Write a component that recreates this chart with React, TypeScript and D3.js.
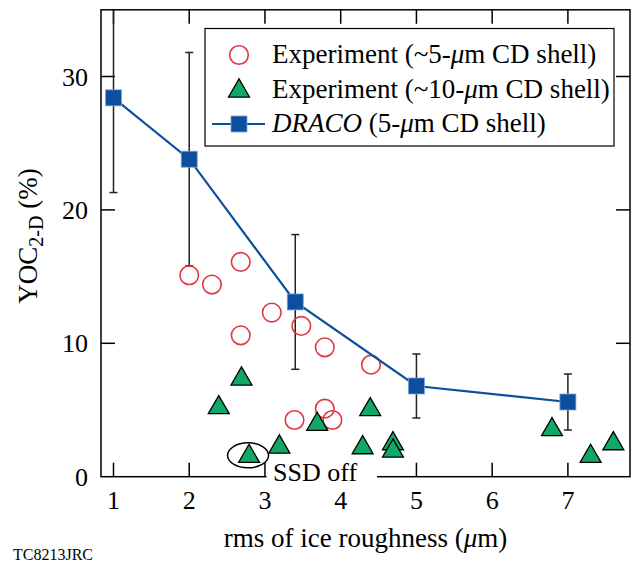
import React, { useEffect, useRef } from 'react';
import * as d3 from 'd3';

// DRACO simulation (5-um CD shell)
const dracoX = [1, 2, 3.4, 5, 7];
const dracoY = [28.4, 23.8, 13.1, 6.8, 5.6];
const dracoErr = [7.1, 8.0, 5.05, 2.4, 2.1];

// Experiment (~5-um CD shell)
const exp5X = [2.0, 2.3, 2.68, 2.68, 3.09, 3.48, 3.79, 4.4, 3.39, 3.79, 3.89];
const exp5Y = [15.1, 14.4, 16.1, 10.6, 12.3, 11.3, 9.7, 8.4, 4.25, 5.1, 4.25];

// Experiment (~10-um CD shell)
const exp10X = [2.39, 2.69, 2.79, 3.19, 3.69, 4.29, 4.39, 4.69, 4.69, 6.79, 7.3, 7.6];
const exp10Y = [5.25, 7.4, 1.6, 2.3, 4.0, 2.25, 5.1, 2.55, 2.0, 3.6, 1.6, 2.55];

// index of the "SSD off" shot in exp10
const ssdOffIndex = 2;

const xTicks = [1, 2, 3, 4, 5, 6, 7];
const yTicks = [10, 20, 30];
const yTickLabels = [0, 10, 20, 30];

const legendLabels = [
  'Experiment (~5-',
  'Experiment (~10-',
  '(5-',
];

const App = () => {
  const svgRef = useRef<SVGSVGElement>(null);

  useEffect(() => {
    const width = 634;
    const height = 564;
    const left = 101;
    const right = 630;
    const top = 9.8;
    const bottom = 476.7;
    const font = "'Liberation Serif', 'Times New Roman', Times, serif";
    const blue = '#0b4f9e';
    const red = '#e2363e';
    const green = '#10a867';
    const fs = 27;

    const svg = d3.select(svgRef.current).attr('width', width).attr('height', height);
    svg.selectAll('*').remove();

    const x = d3.scaleLinear().domain([0.835, 7.82]).range([left, right]);
    const y = d3.scaleLinear().domain([0, 35]).range([bottom, top]);

    const g = svg.append('g').style('font-family', font);

    // frame
    g.append('rect')
      .attr('x', left).attr('y', top)
      .attr('width', right - left).attr('height', bottom - top)
      .attr('fill', 'none').attr('stroke', '#000').attr('stroke-width', 1.5);

    // inward ticks
    const tickLen = 14;
    xTicks.forEach(t => {
      g.append('line').attr('x1', x(t)).attr('x2', x(t)).attr('y1', bottom).attr('y2', bottom - tickLen)
        .attr('stroke', '#000').attr('stroke-width', 1.5);
      g.append('line').attr('x1', x(t)).attr('x2', x(t)).attr('y1', top).attr('y2', top + tickLen)
        .attr('stroke', '#000').attr('stroke-width', 1.5);
      g.append('text').attr('x', x(t)).attr('y', 509).attr('text-anchor', 'middle')
        .attr('font-size', 26).text(t);
    });
    yTicks.forEach(t => {
      g.append('line').attr('x1', left).attr('x2', left + tickLen).attr('y1', y(t)).attr('y2', y(t))
        .attr('stroke', '#000').attr('stroke-width', 1.5);
      g.append('line').attr('x1', right).attr('x2', right - tickLen).attr('y1', y(t)).attr('y2', y(t))
        .attr('stroke', '#000').attr('stroke-width', 1.5);
    });
    yTickLabels.forEach(t => {
      g.append('text').attr('x', 88).attr('y', y(t) + 9).attr('text-anchor', 'end')
        .attr('font-size', 26).text(t);
    });

    // error bars for DRACO
    const cap = 4;
    dracoX.forEach((d, i) => {
      const y1 = Math.max(y(dracoY[i] + dracoErr[i]), top);
      const y2 = y(dracoY[i] - dracoErr[i]);
      g.append('line').attr('x1', x(d)).attr('x2', x(d)).attr('y1', y1).attr('y2', y2)
        .attr('stroke', '#222').attr('stroke-width', 1.5);
      if (y(dracoY[i] + dracoErr[i]) > top) {
        g.append('line').attr('x1', x(d) - cap).attr('x2', x(d) + cap).attr('y1', y1).attr('y2', y1)
          .attr('stroke', '#222').attr('stroke-width', 1.5);
      }
      g.append('line').attr('x1', x(d) - cap).attr('x2', x(d) + cap).attr('y1', y2).attr('y2', y2)
        .attr('stroke', '#222').attr('stroke-width', 1.5);
    });

    // experiment circles
    g.selectAll('.exp5')
      .data(exp5X.map((d, i) => [d, exp5Y[i]]))
      .enter()
      .append('circle')
      .attr('cx', d => x(d[0])).attr('cy', d => y(d[1])).attr('r', 9.3)
      .attr('fill', 'none').attr('stroke', red).attr('stroke-width', 1.6);

    // DRACO line
    const line = d3.line<number>().x((d, i) => x(dracoX[i])).y(d => y(d));
    g.append('path').attr('d', line(dracoY)).attr('fill', 'none')
      .attr('stroke', blue).attr('stroke-width', 2.2);

    const sq = 16;
    dracoX.forEach((d, i) => {
      g.append('rect').attr('x', x(d) - sq / 2).attr('y', y(dracoY[i]) - sq / 2)
        .attr('width', sq).attr('height', sq)
        .attr('fill', blue).attr('stroke', '#7ba3d8').attr('stroke-width', 0.8);
    });

    // triangles
    const tri = d3.symbol().type(d3.symbolTriangle).size(190);
    exp10X.forEach((d, i) => {
      g.append('path').attr('d', tri())
        .attr('transform', `translate(${x(d)},${y(exp10Y[i]) + 1})`)
        .attr('fill', green).attr('stroke', '#000').attr('stroke-width', 1.3);
    });

    // SSD off label with white background
    g.append('rect').attr('x', 266.5).attr('y', 461).attr('width', 110.5).attr('height', 25).attr('fill', '#fff');
    g.append('text').attr('x', 273).attr('y', 480.5).attr('font-size', 26).text('SSD off');
    g.append('ellipse')
      .attr('cx', x(exp10X[ssdOffIndex]) - 1).attr('cy', y(exp10Y[ssdOffIndex]))
      .attr('rx', 20.5).attr('ry', 12.5)
      .attr('fill', 'none').attr('stroke', '#000').attr('stroke-width', 1.5);

    // legend
    g.append('rect').attr('x', 205).attr('y', 28.5).attr('width', 409).attr('height', 117.5)
      .attr('fill', '#fff').attr('stroke', '#000').attr('stroke-width', 1.2);
    const ly = [55, 90, 124];
    g.append('circle').attr('cx', 239).attr('cy', ly[0]).attr('r', 9.3)
      .attr('fill', 'none').attr('stroke', red).attr('stroke-width', 1.6);
    g.append('path').attr('d', tri()).attr('transform', `translate(239,${ly[1] + 1})`)
      .attr('fill', green).attr('stroke', '#000').attr('stroke-width', 1.3);
    g.append('line').attr('x1', 212).attr('x2', 265).attr('y1', ly[2]).attr('y2', ly[2])
      .attr('stroke', blue).attr('stroke-width', 2.2);
    g.append('rect').attr('x', 239 - sq / 2).attr('y', ly[2] - sq / 2).attr('width', sq).attr('height', sq)
      .attr('fill', blue).attr('stroke', '#7ba3d8').attr('stroke-width', 0.8);

    const t0 = g.append('text').attr('x', 272).attr('y', ly[0] + 8).attr('font-size', fs);
    t0.append('tspan').text(legendLabels[0]);
    t0.append('tspan').attr('font-style', 'italic').text('μ');
    t0.append('tspan').text('m CD shell)');
    const t1 = g.append('text').attr('x', 272).attr('y', ly[1] + 8).attr('font-size', fs);
    t1.append('tspan').text(legendLabels[1]);
    t1.append('tspan').attr('font-style', 'italic').text('μ');
    t1.append('tspan').text('m CD shell)');
    const t2 = g.append('text').attr('x', 272).attr('y', ly[2] + 8).attr('font-size', fs);
    t2.append('tspan').attr('font-style', 'italic').text('DRACO');
    t2.append('tspan').text(' ' + legendLabels[2]);
    t2.append('tspan').attr('font-style', 'italic').text('μ');
    t2.append('tspan').text('m CD shell)');

    // axis titles
    const xl = g.append('text').attr('x', (left + right) / 2).attr('y', 547)
      .attr('text-anchor', 'middle').attr('font-size', fs);
    xl.append('tspan').text('rms of ice roughness (');
    xl.append('tspan').attr('font-style', 'italic').text('μ');
    xl.append('tspan').text('m)');

    const yl = g.append('text').attr('transform', 'translate(37,236) rotate(-90)')
      .attr('text-anchor', 'middle').attr('font-size', fs);
    yl.append('tspan').text('YOC');
    yl.append('tspan').attr('font-size', 20).attr('dy', 6).text('2-D');
    yl.append('tspan').attr('dy', -6).text(' (%)');

    g.append('text').attr('x', 13).attr('y', 560).attr('font-size', 16).text('TC8213JRC');
  }, []);

  return (
    <div>
      <style>{`body{margin:0}`}</style>
      <svg ref={svgRef} style={{ display: 'block' }}></svg>
    </div>
  );
};

export default App;
